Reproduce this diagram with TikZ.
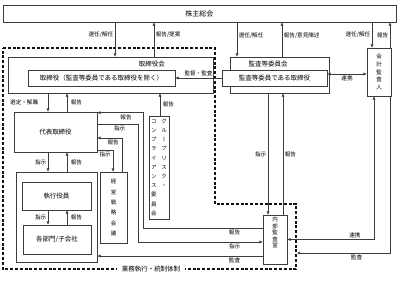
\documentclass[tikz,border=0pt]{standalone}
\usepackage{fontspec}
\setmainfont{Noto Sans CJK JP}
\newfontfamily\vfont[RawFeature=+vert]{Noto Sans CJK JP}
\usetikzlibrary{arrows.meta, calc}

\begin{document}
\begin{tikzpicture}[
    x=1pt, y=-1pt,
    >={Triangle[length=3.2pt, width=2.6pt]},
    every node/.style={font=\fontsize{6.5}{7}\selectfont},
]
% Colors
\definecolor{linedark}{RGB}{60,60,60}
\definecolor{dashblack}{RGB}{20,20,20}
% ============================================================
% Styles
% ============================================================
\tikzset{
    orgbox/.style={
        draw=linedark,
        fill=white,
        line width=0.7pt,
        inner sep=0pt,
        align=center,
    },
    tatebox/.style={orgbox, font=\vfont\fontsize{5.5}{8}\selectfont},
    ctlframe/.style={draw=dashblack, line width=1.1pt, dash pattern=on 3pt off 1.8pt},
    conn/.style={->, draw=linedark, line width=0.6pt},
    biconn/.style={<->, draw=linedark, line width=0.6pt},
    lbl/.style={font=\fontsize{5.6}{6}\selectfont, inner sep=1.5pt},
}
\useasboundingbox (0,0) rectangle (400,281);

% ============================================================
% Execution / control frame (dashed)
% ============================================================
\draw[ctlframe] (3,48) -- (215,48) -- (215,204) -- (296,204) -- (296,269) -- (3,269) -- cycle;
\coordinate (ctledge) at (297,253);
\node[fill=white, inner xsep=5pt, inner ysep=1pt] (ctlname) at (151,269) {業務執行・統制体制};

% ============================================================
% Boxes
% ============================================================
\node[orgbox, minimum width=393pt, minimum height=17pt, font=\fontsize{7}{8}\selectfont] (soukai) at (199.5,13.5) {株主総会};

% --- Board ---
\node[orgbox, minimum width=205pt, minimum height=36pt] (torikai) at (110.5,75) {};
\node (torikainame) at ($(torikai.north)+(41.5,7)$) {取締役会};
\node[orgbox, minimum width=147pt, minimum height=16pt] (tori) at (101.5,78) {取締役（監査等委員である取締役を除く）};

% --- Audit committee ---
\node[orgbox, minimum width=99pt, minimum height=36pt] (kansaiinkai) at (279.5,75) {};
\node (kansaiinkainame) at ($(kansaiinkai.north)+(-11.5,7)$) {監査等委員会};
\node[orgbox, minimum width=105pt, minimum height=16pt] (kansa) at (274.5,78) {監査等委員である取締役};

% --- Accounting auditor ---
\node[tatebox, minimum width=24pt, minimum height=48pt, font=\vfont\fontsize{5.5}{7.8}\selectfont] (kaikei) at (379,72) {会\\計\\監\\査\\人};

% --- Execution side ---
\node[orgbox, minimum width=83pt, minimum height=40pt] (daihyo) at (55.5,132) {代表取締役};
\node[orgbox, minimum width=81pt, minimum height=90pt] (shikkou) at (56.5,217) {};
\node[orgbox, minimum width=69pt, minimum height=28pt] (yakuin) at (56.5,196) {執行役員};
\node[orgbox, minimum width=68pt, minimum height=29pt] (kakubu) at (57,239.5) {各部門/子会社};
\node[tatebox, minimum width=27pt, minimum height=71pt, font=\vfont\fontsize{5.5}{10.3}\selectfont] (keiei) at (113.5,207.5) {経\\営\\戦\\略\\会\\議};
\node[tatebox, minimum width=20pt, minimum height=103pt, font=\vfont\fontsize{5.5}{9.2}\selectfont] (grc) at (159,167.5) {%
    \begin{tabular}{@{}c@{\hspace{5pt}}c@{}}
    コ & グ\\ ン & ル\\ プ & ー\\ ラ & プ\\ イ & リ\\ ア & ス\\
    ン & ク\\ ス & ・\\ 委 & \\ 員 & \\ 会 &
    \end{tabular}};

% --- Internal audit ---
\node[tatebox, minimum width=24pt, minimum height=49pt, font=\vfont\fontsize{5.5}{6.5}\selectfont] (naibu) at (275,239.5) {内\\部\\監\\査\\室\\[8pt]};

% ============================================================
% Arrows
% ============================================================
% Shareholders <-> board, audit committee, accounting auditor
\draw[conn] ([xshift=4.5pt]torikai.north |- soukai.south) -- node[lbl, left, pos=0.37] {選任/解任} ([xshift=4.5pt]torikai.north);
\draw[conn] ([xshift=43.5pt]torikai.north) -- node[lbl, right, pos=0.63] {報告/提案} ([xshift=43.5pt]torikai.north |- soukai.south);
\draw[conn] ([xshift=-42.5pt]kansaiinkai.north |- soukai.south) -- node[lbl, right, pos=0.38] {選任/解任} ([xshift=-42.5pt]kansaiinkai.north);
\draw[conn] ([xshift=2.5pt]kansaiinkai.north) -- node[lbl, right, pos=0.62] {報告/意見陳述} ([xshift=2.5pt]kansaiinkai.north |- soukai.south);
\draw[conn] ([xshift=-7pt]kaikei.north |- soukai.south) -- node[lbl, left] {選任/解任} ([xshift=-7pt]kaikei.north);
\draw[conn] ([xshift=11pt]kaikei.north) -- node[lbl, left] {報告} ([xshift=11pt]kaikei.north |- soukai.south);

% Audit committee side
\draw[biconn] ([yshift=4pt]kansa.east) -- node[lbl, below] {連携} ([yshift=4pt]kansa.east -| kaikei.west);
\draw[conn] (kansa.west) -- node[lbl, above] {監督・監査} (tori.east);

% Board -> representative director -> executives
\draw[conn] ([xshift=-7.5pt]daihyo.north |- torikai.south) -- node[lbl, left=8pt] {選定・解職} ([xshift=-7.5pt]daihyo.north);
\draw[conn] ([xshift=11.5pt]daihyo.north) -- node[lbl, right=2pt] {報告} ([xshift=11.5pt]daihyo.north |- torikai.south);
\draw[conn] ([xshift=1pt]grc.north) -- node[lbl, right=1pt] {報告} ([xshift=1pt]grc.north |- torikai.south);
\draw[conn] ([xshift=-7.5pt]daihyo.south) -- node[lbl, left] {指示} ([xshift=-7.5pt]daihyo.south |- shikkou.north);
\draw[conn] ([xshift=11.5pt]daihyo.south |- shikkou.north) -- node[lbl, right=2pt] {報告} ([xshift=11.5pt]daihyo.south);
\draw[conn] ([xshift=-8.5pt]yakuin.south) -- node[lbl, left] {指示} ([xshift=-8.5pt]yakuin.south |- kakubu.north);
\draw[conn] ([xshift=10.5pt]yakuin.south |- kakubu.north) -- node[lbl, right=2pt] {報告} ([xshift=10.5pt]yakuin.south);

% Representative director <-> strategy meeting
\draw[conn] ([xshift=8.5pt]keiei.north) |- node[lbl, below, pos=0.68] {報告} ([yshift=-6pt]daihyo.east);
\draw[conn] ([yshift=-18pt]daihyo.east) -| node[lbl, below, pos=0.25] {指示} ([xshift=-0.5pt]keiei.north);

% Internal audit routes
\draw[conn] ([yshift=11.5pt]naibu.west) -| node[lbl, below, pos=0.118] {報告} ([xshift=-5pt]grc.west)
    |- node[lbl, below, pos=0.69] {報告} ([yshift=-1pt]daihyo.north east);
\draw[conn] ([yshift=8pt]daihyo.east) -| node[lbl, below, pos=0.27] {指示} ([xshift=-10pt]grc.west)
    |- node[lbl, below, pos=0.887] {指示} ([yshift=-2.5pt]naibu.west);
\draw[conn] ([yshift=-16.5pt]naibu.west) -- node[lbl, below, pos=0.17] {監査} ([yshift=-16.5pt]naibu.west -| shikkou.east);
\draw[conn] ([xshift=-7pt]naibu.north |- kansaiinkai.south) -- node[lbl, left] {指示} ([xshift=-7pt]naibu.north);
\draw[conn] ([xshift=8pt]naibu.north) -- node[lbl, right] {報告} ([xshift=8pt]naibu.north |- kansaiinkai.south);

% Accounting auditor
\draw[biconn] (naibu.east) -| node[lbl, above, pos=0.39] {連携} ([xshift=-5pt]kaikei.south);
\draw[conn] ([xshift=11pt]kaikei.south) |- node[lbl, below, pos=0.68] {監査} (ctledge);
\end{tikzpicture}
\end{document}
